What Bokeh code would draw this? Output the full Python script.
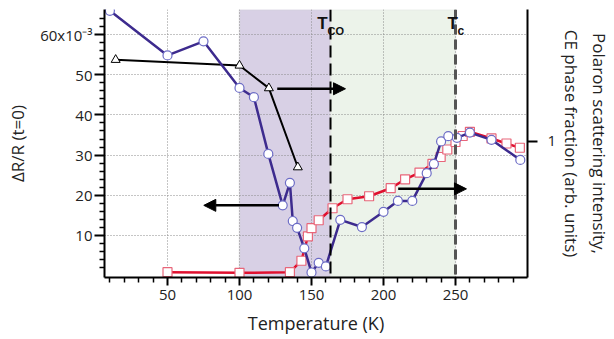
from bokeh.plotting import figure
from bokeh.models import (Range1d, LinearAxis, FixedTicker, BoxAnnotation, Span,
                          Arrow, NormalHead, Label)
from bokeh.embed import file_html
from bokeh.resources import INLINE

# --- data ---
blue_T = [10, 50, 75, 100, 110, 120, 130, 135, 137, 140, 145, 150, 155, 160, 170,
          185, 200, 210, 220, 230, 235, 240, 245, 251, 260, 275, 295]
blue_dR = [65.9, 54.8, 58.3, 46.7, 44.4, 30.3, 17.5, 23.1, 13.6, 11.9, 6.8, 0.8, 3.2, 2.3, 13.9,
           12.1, 15.9, 18.6, 18.6, 25.5, 27.8, 33.4, 34.7, 34.3, 35.6, 33.8, 28.8]

red_T = [50, 100, 135, 143, 147.5, 150, 155, 164.6, 175, 190, 205, 215, 225, 234, 239.7,
         244.3, 250, 255, 260, 275, 285.4, 294.7]
red_I = [0.039, 0.034, 0.039, 0.123, 0.301, 0.362, 0.420, 0.508, 0.574, 0.596, 0.655, 0.720,
         0.770, 0.833, 0.884, 0.939, 0.994, 1.038, 1.069, 1.020, 0.983, 0.952]

tri_T = [14, 100, 120.4, 140.5]
tri_I = [1.597, 1.555, 1.389, 0.809]

x_major = [50, 100, 150, 200, 250]
x_minor = [10, 20, 30, 40, 60, 70, 80, 90, 110, 120, 130, 140, 160, 170, 180, 190,
           210, 220, 230, 240, 260, 270, 280, 290]
y_major = [10, 20, 30, 40, 50, 60]
y_minor = [2, 4, 6, 8, 12, 14, 16, 18, 22, 24, 26, 28, 32, 34, 36, 38, 42, 44, 46, 48,
           52, 54, 56, 58, 62, 64]
y_labels = {10: "10", 20: "20", 30: "30", 40: "40", 50: "50", 60: "60x10\u207B\u00B3"}
r_major = [1]

T_CO = 163.2
T_C = 250
band_start = 100

arrow_x0 = [126.2, 127.4, 210.2]
arrow_x1 = [173.6, 75.2, 257.6]
arrow_y = [46.5, 17.5, 21.6]

FONT = "Open Sans"

p = figure(frame_width=423, frame_height=268,
           x_range=Range1d(6.25, 300), y_range=Range1d(-0.45, 66.22),
           output_backend="svg", toolbar_location=None,
           min_border_left=104, min_border_right=86, min_border_top=9, min_border_bottom=60,
           x_axis_label="Temperature (K)", y_axis_label="\u0394R/R (t=0)")
p.outline_line_color = None
p.background_fill_color = "white"
p.border_fill_color = "white"

p.extra_y_ranges = {"r": Range1d(0, 1.966)}

# bands
p.add_layout(BoxAnnotation(left=band_start, right=T_CO, fill_color="#d8d0e5", fill_alpha=1,
                           line_color="#cfcfcf", line_width=2, level="image"))
p.add_layout(BoxAnnotation(left=T_CO, right=T_C, fill_color="#ecf3ea", fill_alpha=1,
                           line_color="#dcdcdc", line_width=2, level="image"))

# grids
p.xgrid.ticker = FixedTicker(ticks=x_major)
p.ygrid.ticker = FixedTicker(ticks=y_major)
for g in (p.xgrid, p.ygrid):
    g.grid_line_color = "#8a8a8a"
    g.grid_line_dash = "1 2"
    g.grid_line_width = 1

# axes
xa = p.xaxis[0]
xa.ticker = FixedTicker(ticks=x_major, minor_ticks=x_minor)
ya = p.yaxis[0]
ya.ticker = FixedTicker(ticks=y_major, minor_ticks=y_minor)
ya.major_label_overrides = y_labels

ra = LinearAxis(y_range_name="r", ticker=FixedTicker(ticks=r_major),
                axis_label="Polaron scattering intensity,\nCE phase fraction (arb. units)")
p.add_layout(ra, "right")

for ax in (xa, ya, ra):
    ax.axis_line_width = 2
    ax.axis_line_color = "black"
    ax.major_tick_line_width = 2
    ax.minor_tick_line_width = 1.5
    ax.major_tick_in = 0
    ax.minor_tick_in = 0
    ax.minor_tick_out = 5
    ax.major_label_text_font = FONT
    ax.major_label_text_font_size = "15px"
    ax.major_label_text_color = "#222222"
    ax.axis_label_text_font = FONT
    ax.axis_label_text_font_style = "normal"
    ax.axis_label_text_font_size = "18px"
    ax.axis_label_text_color = "#222222"
xa.major_tick_out = 8
xa.major_label_standoff = 4
xa.axis_label_standoff = 8
ya.major_tick_out = 10
ya.major_label_standoff = 2
ya.axis_label_standoff = 8
ya.axis_label_text_font_size = "17px"
ra.major_tick_out = 10
ra.major_label_standoff = 10
ra.axis_label_standoff = 1
ra.axis_label_text_font_size = "17px"

# vertical dashed markers
p.add_layout(Span(location=T_CO, dimension="height", line_color="black", line_width=2,
                  line_dash="12 6"))
p.add_layout(Span(location=T_C, dimension="height", line_color="#555555", line_width=3,
                  line_dash="10 5"))

# series
p.line(tri_T, tri_I, y_range_name="r", line_color="black", line_width=2)
p.scatter(tri_T, tri_I, y_range_name="r", marker="triangle", size=9,
          fill_color="white", line_color="black", line_width=1)

p.line(red_T, red_I, y_range_name="r", line_color="#e0102f", line_width=2.5)
p.scatter(red_T, red_I, y_range_name="r", marker="square", size=9,
          fill_color="white", line_color="#e8667a", line_width=1.2)

p.line(blue_T, blue_dR, line_color="#3d2b8e", line_width=2.5)
p.scatter(blue_T, blue_dR, marker="circle", size=9,
          fill_color="white", line_color="#6d6dc6", line_width=1.2)

# arrows
for x0, x1, yy in zip(arrow_x0, arrow_x1, arrow_y):
    p.add_layout(Arrow(end=NormalHead(size=12, fill_color="black", line_color="black"),
                       x_start=x0, y_start=yy, x_end=x1, y_end=yy,
                       line_color="black", line_width=2.5))

# T labels
LF = "Liberation Sans"
p.add_layout(Label(x=154.0, y=62.7, text="T", text_font=LF, text_font_style="bold",
                   text_font_size="17px", text_baseline="alphabetic", text_color="#111111"))
p.add_layout(Label(x=161.1, y=60.8, text="CO", text_font=LF, text_font_style="bold",
                   text_font_size="11px", text_baseline="alphabetic", text_color="#111111"))
p.add_layout(Label(x=244.4, y=62.7, text="T", text_font=LF, text_font_style="bold",
                   text_font_size="17px", text_baseline="alphabetic", text_color="#111111"))
p.add_layout(Label(x=251.4, y=60.8, text="c", text_font=LF, text_font_style="bold",
                   text_font_size="12px", text_baseline="alphabetic", text_color="#111111"))

open("out.html", "w").write(file_html(p, INLINE))
